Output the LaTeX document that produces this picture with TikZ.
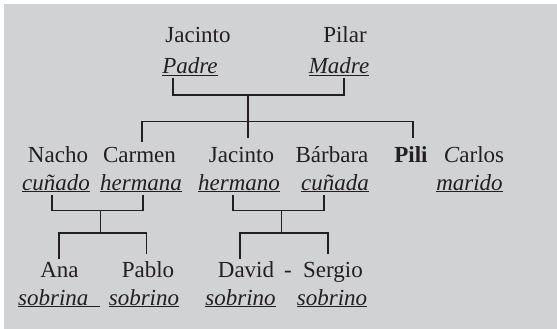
\documentclass[tikz,border=0pt]{standalone}
\usepackage{fontspec}
\setmainfont{Liberation Serif}
\definecolor{bg}{HTML}{D1D2D4}
\definecolor{ink}{HTML}{231F20}
\begin{document}
\begin{tikzpicture}[x=1pt,y=-1pt,
  nm/.style={anchor=base,inner sep=0pt,text=ink,font=\fontsize{23}{26}\selectfont},
  rl/.style={anchor=base,inner sep=0pt,text=ink,font=\fontsize{23}{26}\selectfont\itshape},
  conn/.style={draw=ink,line width=1.1pt}]
\useasboundingbox (0,0) rectangle (557,329);
\fill[bg] (4,4) rectangle (557,329);
% row 1
\node[nm] (jac1) at (198,43) {Jacinto};
\node[nm] (pilar) at (345,43) {Pilar};
\node[rl] (padre) at (190,74) {\underline{Padre}};
\node[rl] (madre) at (339,74) {\underline{Madre}};
% row 2
\node[nm] (nacho) at (58,162) {Nacho};
\node[nm] (carmen) at (139.5,162) {Carmen};
\node[nm] (jac2) at (241.5,162) {Jacinto};
\node[nm] (barbara) at (332,162) {Bárbara};
\node[nm] (pili) at (411,162) {\bfseries Pili};
\node[nm] (carlos) at (474,162) {\textit{C}arlos};
\node[rl] (cunado) at (56,190) {\underline{cuñado}};
\node[rl] (hermana) at (141,190) {\underline{hermana}};
\node[rl] (hermano) at (239,190) {\underline{hermano}};
\node[rl] (cunada) at (335,190) {\underline{cuñada}};
\node[rl] (marido) at (469.5,190) {\underline{marido}};
% row 3
\node[nm] (ana) at (59.5,277) {Ana};
\node[nm] (pablo) at (148,277) {Pablo};
\node[nm] (david) at (246,277) {David};
\node[nm] (dash) at (288,277) {-};
\node[nm] (sergio) at (333,277) {Sergio};
\node[rl,anchor=base west] (sobrina) at (18,305) {\underline{sobrina\hphantom{n}}};
\node[rl] (sobrino1) at (144,305) {\underline{sobrino}};
\node[rl] (sobrino2) at (240.5,305) {\underline{sobrino}};
\node[rl] (sobrino3) at (332,305) {\underline{sobrino}};
% junction coordinates
\coordinate (p1) at (173,78);
\coordinate (m1) at (344,78);
\coordinate (j1) at (248,95);
\coordinate (h1) at (248,121.7);
\coordinate (c1) at (142,142);
\coordinate (c2) at (248,138);
\coordinate (c3) at (413,138);
\coordinate (a1) at (52,195);
\coordinate (a2) at (143,195);
\coordinate (aj) at (100.7,210.7);
\coordinate (ah) at (100.7,233);
\coordinate (ak1) at (59,259);
\coordinate (ak2) at (146.7,254);
\coordinate (b1) at (233,195);
\coordinate (b2) at (324,195);
\coordinate (bj) at (281.7,210.7);
\coordinate (bh) at (281.7,233);
\coordinate (bk1) at (240,259);
\coordinate (bk2) at (328,254);
% connectors
\draw[conn] (p1) |- (j1) -| (m1);
\draw[conn] (j1) -- (h1);
\draw[conn] (c1) |- (h1) -| (c3);
\draw[conn] (h1) -- (c2);
\draw[conn] (a1) |- (aj) -| (a2);
\draw[conn] (aj) -- (ah);
\draw[conn] (ak1) |- (ah) -| (ak2);
\draw[conn] (b1) |- (bj) -| (b2);
\draw[conn] (bj) -- (bh);
\draw[conn] (bk1) |- (bh) -| (bk2);
\end{tikzpicture}
\end{document}
